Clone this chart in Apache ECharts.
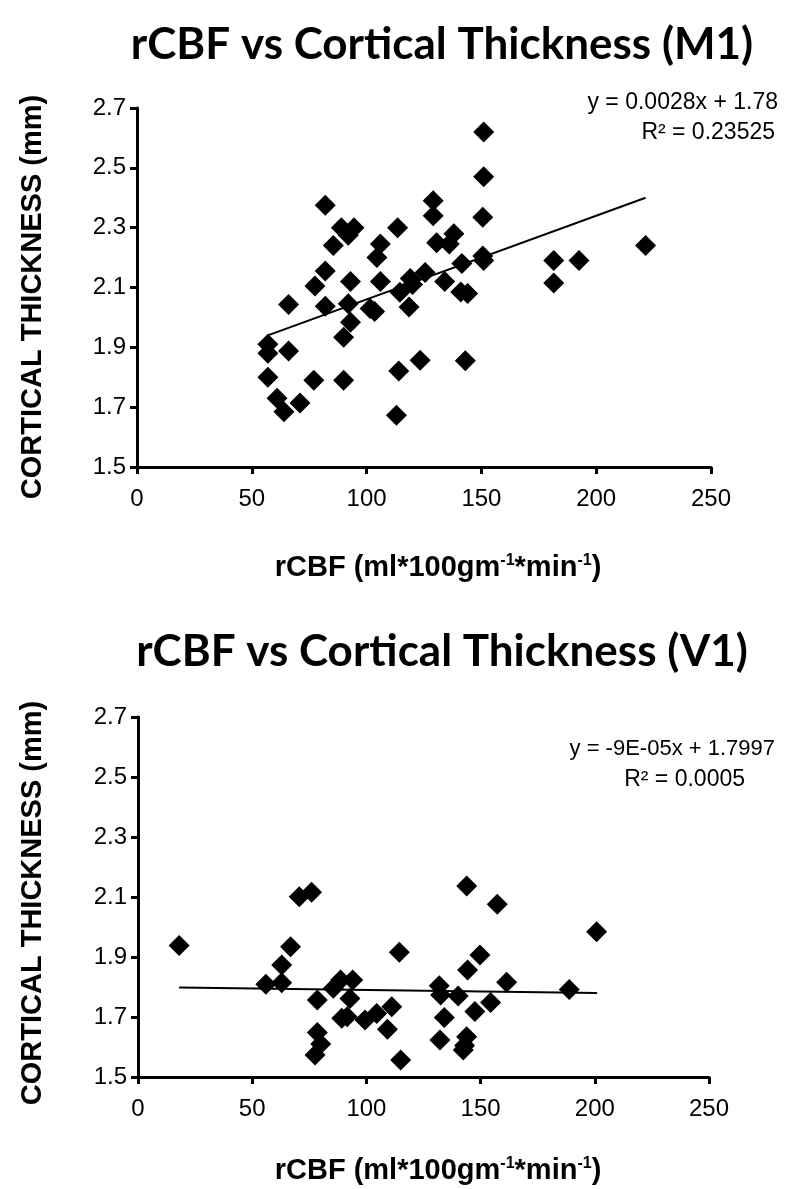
<!DOCTYPE html>
<html>
<head>
<meta charset="utf-8">
<script src="https://cdn.jsdelivr.net/npm/echarts@6/dist/echarts.min.js"></script>
<style>
html,body{margin:0;padding:0;background:#fff;}
#chart{width:812px;height:1189px;}
</style>
</head>
<body>
<div id="chart"></div>
<script>
// ---- Data ----
var titleM1 = 'rCBF vs Cortical Thickness (M1)';
var titleV1 = 'rCBF vs Cortical Thickness (V1)';
var xAxisTitleParts = ['rCBF (ml*100gm', '-1', '*min', '-1', ')'];
var yAxisTitle = 'CORTICAL THICKNESS (mm)';
var eqM1 = ['y = 0.0028x + 1.78', 'R\u00B2 = 0.23525'];
var eqV1 = ['y = -9E-05x + 1.7997', 'R\u00B2 = 0.0005'];

var pointsM1 = [
  [82, 2.375], [89, 2.30], [94.5, 2.30], [92, 2.275], [113.5, 2.30],
  [85.5, 2.24], [106, 2.245], [104.5, 2.20], [82, 2.155], [93, 2.12],
  [106, 2.12], [77.5, 2.105], [119, 2.13], [129, 2.39], [129, 2.34],
  [151, 2.62], [151, 2.47], [150.6, 2.335], [138, 2.28], [130.5, 2.25],
  [136, 2.245], [150.6, 2.205], [151, 2.19], [141.5, 2.18], [125.5, 2.15],
  [134, 2.12], [141, 2.085], [144, 2.08], [181.5, 2.19], [192.5, 2.19],
  [181.5, 2.115], [221.5, 2.24], [123.3, 1.857], [143, 1.855], [66, 2.043],
  [82, 2.037], [92, 2.046], [101.5, 2.03], [103.5, 2.02], [114.5, 2.084],
  [118.5, 2.035], [120, 2.11], [93, 1.984], [90, 1.934], [57, 1.91],
  [57, 1.88], [66, 1.888], [57, 1.80], [77, 1.79], [90, 1.79],
  [61, 1.73], [64, 1.685], [71, 1.714], [114, 1.821], [113, 1.673]
];
var trendM1 = [[57, 1.94], [221.5, 2.40]];

var pointsV1 = [
  [18, 1.938], [70.6, 2.101], [76, 2.116], [66.8, 1.934], [62.9, 1.873],
  [56, 1.809], [62.9, 1.814], [114.4, 1.916], [78.5, 1.757], [85.5, 1.796],
  [88.7, 1.823], [94, 1.823], [92.8, 1.762], [89.2, 1.696], [91.6, 1.701],
  [99.4, 1.69], [104.5, 1.712], [111.1, 1.734], [109.2, 1.659], [78.5, 1.648],
  [80, 1.61], [77.5, 1.573], [115, 1.557], [143.9, 2.137], [157.3, 2.076],
  [200.8, 1.984], [149.7, 1.907], [144.3, 1.857], [131.9, 1.804], [132.5, 1.773],
  [140.2, 1.77], [161.4, 1.816], [188.8, 1.792], [154.4, 1.748], [147.5, 1.718],
  [134.1, 1.698], [132.2, 1.623], [143.9, 1.634], [142.4, 1.59], [143, 1.605]
];
var trendV1 = [[18, 1.798], [201, 1.780]];

var xTicks = [0, 50, 100, 150, 200, 250];
var yTicks = [1.5, 1.7, 1.9, 2.1, 2.3, 2.5, 2.7];

// ---- Chart ----
var chart = echarts.init(document.getElementById('chart'), null, {renderer: 'canvas'});
var black = '#000';
var sans = '"Liberation Sans", Arial, sans-serif';
function xAxisCfg(idx) {
  return {
    type: 'value', gridIndex: idx,
    min: xTicks[0], max: xTicks[xTicks.length - 1], interval: xTicks[1] - xTicks[0],
    axisLine: {show: true, lineStyle: {color: black, width: 3}},
    axisTick: {show: true, inside: false, length: 7, lineStyle: {color: black, width: 3}},
    axisLabel: {margin: 20, fontFamily: sans, fontSize: 24, color: black},
    splitLine: {show: false}
  };
}
function yAxisCfg(idx) {
  return {
    type: 'value', gridIndex: idx,
    min: yTicks[0], max: yTicks[yTicks.length - 1], interval: 0.2,
    axisLine: {show: true, lineStyle: {color: black, width: 3}},
    axisTick: {show: true, inside: false, length: 7, lineStyle: {color: black, width: 3}},
    axisLabel: {margin: 11, fontFamily: sans, fontSize: 24, color: black,
      formatter: function (v) { return v.toFixed(1); }},
    splitLine: {show: false}
  };
}
function scatter(idx, data) {
  return {type: 'scatter', xAxisIndex: idx, yAxisIndex: idx, data: data,
    symbol: 'diamond', symbolSize: 21, itemStyle: {color: black, opacity: 1}, silent: true, z: 3};
}
function trend(idx, data) {
  return {type: 'line', xAxisIndex: idx, yAxisIndex: idx, data: data,
    symbol: 'none', lineStyle: {color: black, width: 2}, silent: true, z: 4};
}
var titleFont = 'bold 44px Lato, "Open Sans", sans-serif';
var eqFont = '23px ' + sans;
var yTitleFont = 'bold 29px ' + sans;
function centeredText(text, font, x, y, rot) {
  return {type: 'text', x: x, y: y, rotation: rot || 0,
    style: {text: text, font: font, fill: black, align: 'center', verticalAlign: 'middle'}};
}
function xTitle(y) {
  var p = xAxisTitleParts;
  return {type: 'text', x: 438, y: y,
    style: {
      text: '{a|' + p[0] + '}{s|' + p[1] + '}{a|' + p[2] + '}{s|' + p[3] + '}{a|' + p[4] + '}',
      align: 'center', verticalAlign: 'middle', fill: black,
      rich: {
        a: {fontFamily: sans, fontWeight: 'bold', fontSize: 29, fill: black, lineHeight: 34},
        s: {fontFamily: sans, fontWeight: 'bold', fontSize: 16, fill: black, verticalAlign: 'top', lineHeight: 34, padding: [2, 0, 0, 0]}
      }
    }};
}
var option = {
  animation: false,
  backgroundColor: '#fff',
  grid: [
    {left: 137, top: 108, width: 574, height: 359},
    {left: 138, top: 717, width: 571, height: 360}
  ],
  xAxis: [xAxisCfg(0), xAxisCfg(1)],
  yAxis: [yAxisCfg(0), yAxisCfg(1)],
  series: [scatter(0, pointsM1), trend(0, trendM1), scatter(1, pointsV1), trend(1, trendV1)],
  graphic: [
    centeredText(titleM1, titleFont, 442, 45),
    centeredText(titleV1, titleFont, 442, 652),
    centeredText(yAxisTitle, yTitleFont, 33, 297, Math.PI / 2),
    centeredText(yAxisTitle, yTitleFont, 33, 903, Math.PI / 2),
    xTitle(568),
    xTitle(1171),
    {type: 'text', right: 34, top: 91, style: {text: eqM1[0], font: eqFont, fill: black}},
    {type: 'text', right: 37, top: 121, style: {text: eqM1[1], font: eqFont, fill: black}},
    {type: 'text', right: 37, top: 738, style: {text: eqV1[0], font: '22px ' + sans, fill: black}},
    {type: 'text', right: 67, top: 768, style: {text: eqV1[1], font: eqFont, fill: black}}
  ]
};
chart.setOption(option);
</script>
</body>
</html>
